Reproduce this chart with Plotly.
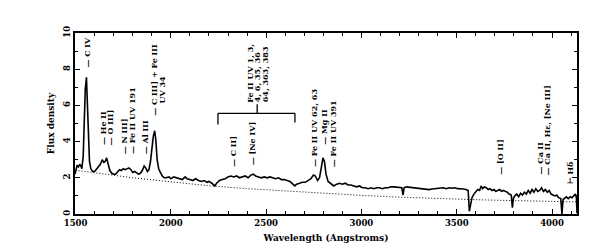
import plotly.graph_objects as go

# ---------------- data ----------------
wavelength = [1497, 1502, 1508, 1515, 1522, 1528, 1533, 1540, 1546, 1551, 1557, 1562, 1567, 1573, 1580,
              1590, 1600, 1610, 1620, 1630, 1640, 1648, 1655, 1663, 1670, 1680, 1690, 1700, 1710, 1720,
              1730, 1740, 1750, 1760, 1770, 1780, 1790, 1800, 1810, 1820, 1830, 1840, 1850, 1860, 1868,
              1877, 1885, 1893, 1900, 1908, 1915, 1921, 1928, 1936, 1945, 1955, 1965, 1975, 1990, 2000,
              2015, 2030, 2045, 2060, 2075, 2085, 2100, 2115, 2130, 2145, 2160, 2175, 2190, 2200, 2215,
              2230, 2240, 2255, 2270, 2285, 2300, 2315, 2330, 2345, 2360, 2375, 2390, 2405, 2420, 2432,
              2445, 2460, 2475, 2490, 2505, 2520, 2535, 2550, 2565, 2580, 2595, 2610, 2625, 2640, 2650,
              2660, 2675, 2690, 2705, 2720, 2735, 2748, 2758, 2770, 2780, 2790, 2798, 2806, 2814, 2825,
              2840, 2855, 2870, 2885, 2900, 2915, 2930, 2945, 2960, 2975, 2990, 3005, 3020, 3035, 3050,
              3065, 3080, 3095, 3110, 3125, 3140, 3155, 3170, 3185, 3200, 3212, 3218, 3224, 3235, 3250,
              3265, 3280, 3295, 3310, 3325, 3340, 3355, 3370, 3385, 3400, 3415, 3430, 3445, 3460, 3475,
              3490, 3505, 3520, 3535, 3548, 3560, 3566, 3572, 3580, 3590, 3600, 3610, 3620, 3628, 3636,
              3645, 3655, 3665, 3675, 3685, 3695, 3705, 3715, 3725, 3735, 3745, 3755, 3765, 3775, 3786,
              3792, 3798, 3805, 3815, 3825, 3835, 3845, 3855, 3865, 3875, 3885, 3895, 3905, 3915, 3925,
              3935, 3945, 3955, 3965, 3975, 3985, 3995, 4005, 4015, 4025, 4034, 4046, 4052, 4058, 4066,
              4075, 4085, 4095, 4105, 4115, 4122, 4128, 4131]
flux = [2.2, 2.55, 2.7, 2.6, 2.75, 2.65, 2.5, 3.2, 5.2, 6.9, 7.55, 6.0, 4.0, 2.9, 2.5,
        2.35, 2.35, 2.5, 2.65, 2.75, 3.0, 2.85, 2.9, 3.1, 2.8, 2.4, 2.25, 2.2, 2.2, 2.35,
        2.45, 2.4, 2.5, 2.45, 2.5, 2.55, 2.45, 2.3, 2.35, 2.25, 2.2, 2.25, 2.4, 2.65, 2.55,
        2.35, 2.45, 2.9, 3.6, 4.3, 4.6, 4.1, 3.0, 2.5, 2.3, 2.1, 2.0, 2.0, 2.05, 1.95,
        2.05, 2.0, 1.95, 1.9, 2.05, 1.95, 1.9, 1.85, 1.95, 1.85, 1.8, 1.85, 1.75, 1.8, 1.7,
        1.55, 1.7, 1.85, 1.9, 1.95, 2.05, 2.1, 2.05, 2.1, 2.0, 2.05, 2.1, 2.0, 2.15, 2.2,
        2.1, 2.05, 2.0, 2.05, 2.0, 2.05, 2.0, 1.95, 2.0, 1.9, 1.9, 1.85, 1.8, 1.65, 1.55,
        1.65, 1.7, 1.75, 1.75, 1.85, 1.95, 2.15, 2.1, 1.85, 2.0, 2.6, 3.1, 2.9, 2.2, 1.8,
        1.65, 1.55, 1.65, 1.7, 1.65, 1.7, 1.6, 1.6, 1.55, 1.5, 1.55, 1.45, 1.45, 1.4, 1.45,
        1.4, 1.45, 1.45, 1.4, 1.45, 1.45, 1.5, 1.5, 1.48, 1.5, 1.45, 1.05, 1.45, 1.5, 1.48,
        1.5, 1.45, 1.45, 1.42, 1.4, 1.38, 1.35, 1.38, 1.4, 1.42, 1.4, 1.45, 1.4, 1.45, 1.42,
        1.45, 1.4, 1.4, 1.38, 1.35, 1.3, 0.15, 0.5, 0.9, 1.1, 1.25, 1.35, 1.3, 1.55, 1.4,
        1.5, 1.45, 1.35, 1.4, 1.3, 1.35, 1.25, 1.3, 1.35, 1.25, 1.3, 1.25, 1.2, 1.1, 1.05,
        0.35, 0.9, 1.0, 1.1, 0.95, 1.15, 1.05, 1.2, 1.1, 1.3, 1.15, 1.35, 1.2, 1.4, 1.25,
        1.3, 1.45, 1.25, 1.35, 1.2, 1.3, 1.1, 1.05, 1.0, 1.05, 0.9, 0.85, 0.0, 0.8, 0.85,
        0.95, 0.85, 0.95, 0.9, 1.0, 1.1, 0.9, 0.05]

continuum_wavelength = [1500, 1600, 1800, 2000, 2200, 2400, 2600, 2800, 3000, 3200, 3400, 3600, 3800, 4000, 4131]
continuum_flux = [2.42, 2.28, 2.0, 1.78, 1.56, 1.40, 1.27, 1.15, 1.03, 0.93, 0.85, 0.79, 0.74, 0.70, 0.67]

x_tick_values = [1500, 2000, 2500, 3000, 3500, 4000]
x_tick_labels = ["1500", "2000", "2500", "3000", "3500", "4000"]
y_tick_values = [0, 2, 4, 6, 8, 10]
y_tick_labels = ["0", "2", "4", "6", "8", "10"]

line_labels = ["— C IV", "— He II", "— O III]", "— N III]", "— Fe II UV 191", "— Al III",
               "— C III] + Fe III", "UV 34", "— C II]", "— [Ne IV]",
               "Fe II UV 1, 3,", "4, 6, 35, 36", "64, 363, 383",
               "— Fe II UV 62, 63", "— Mg II", "— Fe II UV 391",
               "— [O II]", "— Ca II", "— Ca II, Hε, [Ne III]", "⊢ Hδ"]
# label anchor (wavelength, flux at bottom of the rotated label)
label_x = [1559, 1643, 1682, 1755, 1793, 1865, 1915, 1954, 2330, 2427,
           2414, 2453, 2492, 2752, 2802, 2850, 3726, 3937, 3976, 4093]
label_y = [8.05, 3.75, 3.75, 3.25, 3.25, 3.25, 5.35, 6.05, 2.55, 2.65,
           6.1, 6.1, 6.1, 2.55, 3.75, 2.55, 2.1, 2.1, 2.1, 1.6]

FONT = "DejaVu Serif"

fig = go.Figure()
fig.add_trace(go.Scatter(x=continuum_wavelength, y=continuum_flux, mode="lines",
                         line=dict(color="black", width=1, dash="1px,2px"), hoverinfo="skip"))
fig.add_trace(go.Scatter(x=wavelength, y=flux, mode="lines",
                         line=dict(color="black", width=1.6), hoverinfo="skip"))

for t, xv, yv in zip(line_labels, label_x, label_y):
    fig.add_annotation(x=xv, y=yv, xref="x", yref="y", text=t, showarrow=False,
                       textangle=-90, xanchor="center", yanchor="bottom",
                       borderpad=0, font=dict(family=FONT, size=8, color="black", weight="bold"))

# Fe II bracket
bx0, bx1, bxc = 2247, 2651, 2453
by, byl, byr, byc = 5.56, 4.94, 5.06, 6.06
for (xa, ya, xb, yb) in [(bx0, by, bx1, by), (bx0, by, bx0, byl), (bx1, by, bx1, byr), (bxc, by, bxc, byc)]:
    fig.add_shape(type="line", x0=xa, y0=ya, x1=xb, y1=yb, xref="x", yref="y",
                  line=dict(color="black", width=1.3))

axis_font = dict(family=FONT, size=8.5, color="black", weight="bold")
title_font = dict(family=FONT, size=9, color="black", weight="bold")
fig.update_layout(
    width=594, height=249,
    margin=dict(l=67, r=25, t=25, b=43, autoexpand=False),
    paper_bgcolor="white", plot_bgcolor="white",
    showlegend=False,
    font=dict(family=FONT, color="black"),
)
fig.update_xaxes(range=[1497, 4131], tickvals=x_tick_values, ticktext=x_tick_labels, automargin=False,
                 ticks="inside", ticklen=5, tickwidth=1.3, tickcolor="black",
                 minor=dict(dtick=100, tick0=1500, ticks="inside", ticklen=3, tickwidth=1, tickcolor="black"),
                 showline=True, linecolor="black", linewidth=1.5, mirror="allticks",
                 showgrid=False, zeroline=False, tickfont=axis_font,
                 title=dict(text="Wavelength (Angstroms)", font=title_font, standoff=8))
fig.update_yaxes(range=[0, 10], tickvals=y_tick_values, ticktext=y_tick_labels, tickangle=-90, automargin=False,
                 ticks="inside", ticklen=5, tickwidth=1.3, tickcolor="black",
                 minor=dict(dtick=1, tick0=0, ticks="inside", ticklen=3, tickwidth=1, tickcolor="black"),
                 showline=True, linecolor="black", linewidth=1.5, mirror="allticks",
                 showgrid=False, zeroline=False, tickfont=axis_font,
                 title=dict(text="Flux density", font=title_font, standoff=6))

fig.write_html("out.html")
